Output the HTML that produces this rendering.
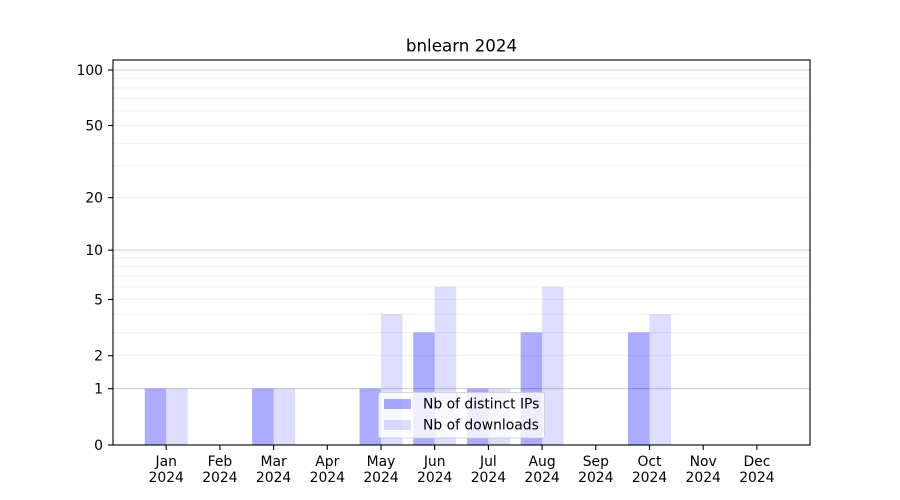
<!DOCTYPE html>
<html>
<head>
<meta charset="utf-8">
<style>
html,body{margin:0;padding:0;background:#fff;}
svg{display:block;font-family:"DejaVu Sans","Liberation Sans",sans-serif;}
</style>
</head>
<body>
<svg width="900" height="500" viewBox="0 0 900 500" xmlns="http://www.w3.org/2000/svg">
<rect x="0" y="0" width="900" height="500" fill="#fff"/>
<!-- title -->
<text x="461.5" y="51.5" font-size="16.7" text-anchor="middle" fill="#000">bnlearn 2024</text>

<!-- bars -->
<g>
  <!-- Nb of distinct IPs -->
  <rect x="144.72" y="388.68" width="21.48" height="56.32" fill="rgba(0,0,255,0.33)"/>
  <rect x="252.12" y="388.68" width="21.48" height="56.32" fill="rgba(0,0,255,0.33)"/>
  <rect x="359.52" y="388.68" width="21.48" height="56.32" fill="rgba(0,0,255,0.33)"/>
  <rect x="413.22" y="332.35" width="21.48" height="112.65" fill="rgba(0,0,255,0.33)"/>
  <rect x="466.92" y="388.68" width="21.48" height="56.32" fill="rgba(0,0,255,0.33)"/>
  <rect x="520.62" y="332.35" width="21.48" height="112.65" fill="rgba(0,0,255,0.33)"/>
  <rect x="628.02" y="332.35" width="21.48" height="112.65" fill="rgba(0,0,255,0.33)"/>
  <!-- Nb of downloads -->
  <rect x="166.2" y="388.68" width="21.48" height="56.32" fill="rgba(0,0,255,0.135)"/>
  <rect x="273.6" y="388.68" width="21.48" height="56.32" fill="rgba(0,0,255,0.135)"/>
  <rect x="381.0" y="314.22" width="21.48" height="130.78" fill="rgba(0,0,255,0.135)"/>
  <rect x="434.7" y="286.88" width="21.48" height="158.12" fill="rgba(0,0,255,0.135)"/>
  <rect x="488.4" y="388.68" width="21.48" height="56.32" fill="rgba(0,0,255,0.135)"/>
  <rect x="542.1" y="286.88" width="21.48" height="158.12" fill="rgba(0,0,255,0.135)"/>
  <rect x="649.5" y="314.22" width="21.48" height="130.78" fill="rgba(0,0,255,0.135)"/>
</g>

<!-- minor grid -->
<g stroke="rgba(0,0,0,0.07)" stroke-width="0.8">
  <line x1="113" x2="810" y1="355.73" y2="355.73"/>
  <line x1="113" x2="810" y1="332.35" y2="332.35"/>
  <line x1="113" x2="810" y1="314.22" y2="314.22"/>
  <line x1="113" x2="810" y1="299.41" y2="299.41"/>
  <line x1="113" x2="810" y1="286.88" y2="286.88"/>
  <line x1="113" x2="810" y1="276.03" y2="276.03"/>
  <line x1="113" x2="810" y1="266.46" y2="266.46"/>
  <line x1="113" x2="810" y1="257.9" y2="257.9"/>
  <line x1="113" x2="810" y1="197.61" y2="197.61"/>
  <line x1="113" x2="810" y1="165.97" y2="165.97"/>
  <line x1="113" x2="810" y1="143.25" y2="143.25"/>
  <line x1="113" x2="810" y1="125.51" y2="125.51"/>
  <line x1="113" x2="810" y1="110.96" y2="110.96"/>
  <line x1="113" x2="810" y1="98.63" y2="98.63"/>
  <line x1="113" x2="810" y1="87.92" y2="87.92"/>
  <line x1="113" x2="810" y1="78.46" y2="78.46"/>
</g>
<!-- major grid -->
<g stroke="rgba(0,0,0,0.2)" stroke-width="1">
  <line x1="113" x2="810" y1="388.68" y2="388.68"/>
  <line x1="113" x2="810" y1="250.16" y2="250.16"/>
  <line x1="113" x2="810" y1="70.0" y2="70.0"/>
</g>

<!-- axes frame -->
<rect x="113" y="60" width="697" height="385" fill="none" stroke="#000" stroke-width="1.1"/>

<!-- y ticks -->
<g stroke="#000" stroke-width="1.1">
  <line x1="108" x2="113" y1="445" y2="445"/>
  <line x1="108" x2="113" y1="388.68" y2="388.68"/>
  <line x1="108" x2="113" y1="355.73" y2="355.73"/>
  <line x1="108" x2="113" y1="299.41" y2="299.41"/>
  <line x1="108" x2="113" y1="250.16" y2="250.16"/>
  <line x1="108" x2="113" y1="197.61" y2="197.61"/>
  <line x1="108" x2="113" y1="125.51" y2="125.51"/>
  <line x1="108" x2="113" y1="70.0" y2="70.0"/>
</g>
<g font-size="13.9" text-anchor="end" fill="#000">
  <text x="103" y="450">0</text>
  <text x="103" y="393.7">1</text>
  <text x="103" y="360.7">2</text>
  <text x="103" y="304.4">5</text>
  <text x="103" y="255.2">10</text>
  <text x="103" y="202.6">20</text>
  <text x="103" y="130.5">50</text>
  <text x="103" y="75">100</text>
</g>

<!-- x ticks -->
<g stroke="#000" stroke-width="1.1">
  <line x1="166.2" x2="166.2" y1="445" y2="450"/>
  <line x1="219.9" x2="219.9" y1="445" y2="450"/>
  <line x1="273.6" x2="273.6" y1="445" y2="450"/>
  <line x1="327.3" x2="327.3" y1="445" y2="450"/>
  <line x1="381.0" x2="381.0" y1="445" y2="450"/>
  <line x1="434.7" x2="434.7" y1="445" y2="450"/>
  <line x1="488.4" x2="488.4" y1="445" y2="450"/>
  <line x1="542.1" x2="542.1" y1="445" y2="450"/>
  <line x1="595.8" x2="595.8" y1="445" y2="450"/>
  <line x1="649.5" x2="649.5" y1="445" y2="450"/>
  <line x1="703.2" x2="703.2" y1="445" y2="450"/>
  <line x1="756.9" x2="756.9" y1="445" y2="450"/>
</g>
<g font-size="13.9" text-anchor="middle" fill="#000">
  <text x="166.2" y="466">Jan</text><text x="166.2" y="482">2024</text>
  <text x="219.9" y="466">Feb</text><text x="219.9" y="482">2024</text>
  <text x="273.6" y="466">Mar</text><text x="273.6" y="482">2024</text>
  <text x="327.3" y="466">Apr</text><text x="327.3" y="482">2024</text>
  <text x="381.0" y="466">May</text><text x="381.0" y="482">2024</text>
  <text x="434.7" y="466">Jun</text><text x="434.7" y="482">2024</text>
  <text x="488.4" y="466">Jul</text><text x="488.4" y="482">2024</text>
  <text x="542.1" y="466">Aug</text><text x="542.1" y="482">2024</text>
  <text x="595.8" y="466">Sep</text><text x="595.8" y="482">2024</text>
  <text x="649.5" y="466">Oct</text><text x="649.5" y="482">2024</text>
  <text x="703.2" y="466">Nov</text><text x="703.2" y="482">2024</text>
  <text x="756.9" y="466">Dec</text><text x="756.9" y="482">2024</text>
</g>

<!-- legend -->
<rect x="378.5" y="392.5" width="166" height="45.5" rx="2.5" ry="2.5" fill="rgba(255,255,255,0.8)" stroke="rgba(204,204,204,0.8)" stroke-width="1"/>
<rect x="384" y="399" width="27" height="10" fill="rgba(0,0,255,0.33)"/>
<rect x="384" y="420" width="27" height="10" fill="rgba(0,0,255,0.135)"/>
<g font-size="13.9" fill="#000">
  <text x="423" y="408.5">Nb of distinct IPs</text>
  <text x="423" y="429.5">Nb of downloads</text>
</g>
</svg>
</body>
</html>
